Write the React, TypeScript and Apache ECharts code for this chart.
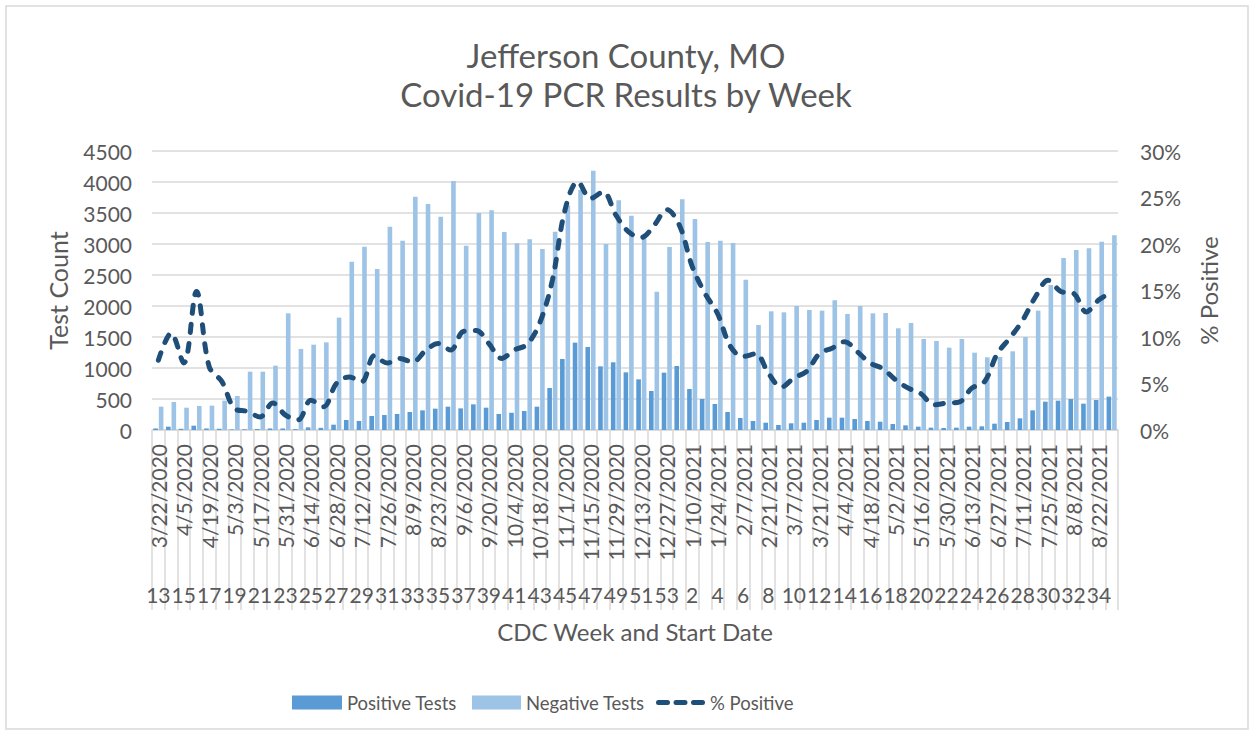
import React, { useEffect, useRef } from "react";
import * as echarts from "echarts";

const dates = [
  "3/22/2020", "3/29/2020", "4/5/2020", "4/12/2020", "4/19/2020", "4/26/2020", "5/3/2020", "5/10/2020",
  "5/17/2020", "5/24/2020", "5/31/2020", "6/7/2020", "6/14/2020", "6/21/2020", "6/28/2020", "7/5/2020",
  "7/12/2020", "7/19/2020", "7/26/2020", "8/2/2020", "8/9/2020", "8/16/2020", "8/23/2020", "8/30/2020",
  "9/6/2020", "9/13/2020", "9/20/2020", "9/27/2020", "10/4/2020", "10/11/2020", "10/18/2020", "10/25/2020",
  "11/1/2020", "11/8/2020", "11/15/2020", "11/22/2020", "11/29/2020", "12/6/2020", "12/13/2020", "12/20/2020",
  "12/27/2020",
  "1/3/2021", "1/10/2021", "1/17/2021", "1/24/2021", "1/31/2021", "2/7/2021", "2/14/2021", "2/21/2021",
  "2/28/2021", "3/7/2021", "3/14/2021", "3/21/2021", "3/28/2021", "4/4/2021", "4/11/2021", "4/18/2021",
  "4/25/2021", "5/2/2021", "5/9/2021", "5/16/2021", "5/23/2021", "5/30/2021", "6/6/2021", "6/13/2021",
  "6/20/2021", "6/27/2021", "7/4/2021", "7/11/2021", "7/18/2021", "7/25/2021", "8/1/2021", "8/8/2021",
  "8/15/2021", "8/22/2021", "8/29/2021",
];

const cdcWeeks = [
  "13", "14", "15", "16", "17", "18", "19", "20", "21", "22", "23", "24", "25", "26", "27", "28",
  "29", "30", "31", "32", "33", "34", "35", "36", "37", "38", "39", "40", "41", "42", "43", "44",
  "45", "46", "47", "48", "49", "50", "51", "52", "53",
  "1", "2", "3", "4", "5", "6", "7", "8", "9", "10", "11", "12", "13", "14", "15", "16",
  "17", "18", "19", "20", "21", "22", "23", "24", "25", "26", "27", "28", "29", "30", "31", "32",
  "33", "34", "35",
];

const positiveTests = [
  25, 54, 20, 70, 25, 20, 10, 12, 15, 25, 25, 15, 43, 35, 86, 161,
  145, 226, 242, 258, 290, 317, 344, 376, 349, 414, 360, 258, 280, 306, 376, 677,
  1145, 1409, 1339, 1027, 1092, 930, 817, 629, 925,
  1032, 661, 500, 419, 290, 194, 145, 118, 81, 108, 118, 161, 199, 199, 177, 145,
  134, 97, 75, 54, 38, 32, 38, 54, 59, 102, 129, 188, 317, 457, 473, 500,
  425, 484, 538,
];

const negativeTests = [
  376, 452, 360, 387, 393, 473, 548, 941, 941, 1038, 1882, 1307, 1376, 1414, 1812, 2715,
  2957, 2597, 3280, 3054, 3764, 3645, 3441, 4017, 2970, 3500, 3543, 3194, 3011, 3076, 2920, 3199,
  3620, 3871, 4183, 3000, 3705, 3457, 3092, 2231, 2952,
  3721, 3403, 3032, 3054, 3016, 2425, 1694, 1914, 1898, 2000, 1936, 1925, 2092, 1871, 2000, 1882,
  1887, 1640, 1726, 1468, 1436, 1328, 1468, 1247, 1172, 1177, 1269, 1500, 1925, 2339, 2774, 2903,
  2930, 3038, 3140,
];

const pctPositive = [
  0.075, 0.104, 0.072, 0.149, 0.068, 0.052, 0.023, 0.02, 0.014, 0.029, 0.016, 0.011, 0.032, 0.025, 0.05, 0.057,
  0.052, 0.08, 0.072, 0.077, 0.073, 0.085, 0.093, 0.086, 0.106, 0.107, 0.093, 0.077, 0.086, 0.092, 0.115, 0.161,
  0.237, 0.267, 0.249, 0.256, 0.231, 0.213, 0.207, 0.22, 0.237,
  0.22, 0.176, 0.147, 0.125, 0.09, 0.079, 0.082, 0.061, 0.046, 0.056, 0.063, 0.082, 0.088, 0.095, 0.084, 0.072,
  0.066, 0.054, 0.045, 0.039, 0.027, 0.029, 0.03, 0.045, 0.052, 0.082, 0.099, 0.118, 0.143, 0.161, 0.149, 0.147,
  0.127, 0.14, 0.148,
];

const FONT = "Lato, 'Open Sans', sans-serif";
const TXT = "#595959";
const GRID = "#d9d9d9";
const POS = "#5b9bd5";
const NEG = "#9dc3e6";
const LINE = "#1f4e79";

const DASH_ICON =
  "path://M2.5,0 H11.5 A2.5,2.5 0 0 1 11.5,5 H2.5 A2.5,2.5 0 0 1 2.5,0 Z " +
  "M20,0 H29 A2.5,2.5 0 0 1 29,5 H20 A2.5,2.5 0 0 1 20,0 Z " +
  "M37.5,0 H46.5 A2.5,2.5 0 0 1 46.5,5 H37.5 A2.5,2.5 0 0 1 37.5,0 Z";

export default function App() {
  const ref = useRef<HTMLDivElement>(null);
  useEffect(() => {
    if (!ref.current) return;
    const chart = echarts.init(ref.current, null, { renderer: "svg" });
    const legendText = { fontFamily: FONT, fontSize: 18.5, color: TXT };
    chart.setOption({
      animation: false,
      backgroundColor: "#ffffff",
      textStyle: { fontFamily: FONT },
      title: {
        text: "Jefferson County, MO\nCovid-19 PCR Results by Week",
        left: "center",
        top: 30,
        textStyle: { fontFamily: FONT, fontSize: 33, fontWeight: "normal", color: TXT, lineHeight: 39 },
      },
      graphic: [
        {
          type: "rect",
          shape: { x: 6, y: 6, width: 1242, height: 723 },
          style: { fill: "none", stroke: GRID, lineWidth: 1.5 },
          silent: true,
        },
      ],
      legend: [
        {
          left: 292,
          top: 693,
          padding: 0,
          itemWidth: 50,
          itemHeight: 14,
          textStyle: { ...legendText, lineHeight: 14 },
          data: [{ name: "Positive Tests", icon: "rect" }],
        },
        {
          left: 472,
          top: 693,
          padding: 0,
          itemWidth: 49,
          itemHeight: 14,
          textStyle: { ...legendText, lineHeight: 14 },
          data: [{ name: "Negative Tests", icon: "rect" }],
        },
        {
          left: 656,
          top: 693,
          padding: 0,
          itemWidth: 49,
          itemHeight: 5,
          textStyle: { ...legendText, lineHeight: 5 },
          data: [{ name: "% Positive", icon: DASH_ICON, itemStyle: { color: LINE } }],
        },
      ],
      grid: { left: 152, right: 134, top: 151, bottom: 303, containLabel: false },
      xAxis: [
        {
          type: "category",
          data: dates,
          position: "bottom",
          axisLine: { lineStyle: { color: GRID, width: 1.5 } },
          axisTick: { show: true, interval: 0, length: 180, lineStyle: { color: GRID, width: 1.5 } },
          axisLabel: {
            interval: 1,
            rotate: 90,
            margin: 14,
            fontFamily: FONT,
            fontSize: 21,
            color: TXT,
          },
        },
        {
          type: "category",
          data: cdcWeeks,
          position: "bottom",
          axisLine: { show: false },
          axisTick: { show: false },
          axisLabel: { interval: 1, margin: 154, fontFamily: FONT, fontSize: 21, color: TXT, hideOverlap: false },
          name: "CDC Week and Start Date",
          nameLocation: "middle",
          nameGap: 189,
          nameTextStyle: { fontFamily: FONT, fontSize: 24, color: TXT },
        },
      ],
      yAxis: [
        {
          type: "value",
          min: 0,
          max: 4500,
          interval: 500,
          position: "left",
          name: "Test Count",
          nameLocation: "middle",
          nameRotate: 90,
          nameGap: 82,
          nameTextStyle: { fontFamily: FONT, fontSize: 25, color: TXT },
          axisLine: { show: false },
          axisTick: { show: false },
          axisLabel: {
            margin: 20,
            fontFamily: FONT,
            fontSize: 21,
            color: TXT,
            formatter: (v: number) => String(v),
          },
          splitLine: { lineStyle: { color: GRID, width: 1.5 } },
        },
        {
          type: "value",
          min: 0,
          max: 0.3,
          interval: 0.05,
          position: "right",
          name: "% Positive",
          nameLocation: "middle",
          nameRotate: 90,
          nameGap: 78,
          nameTextStyle: { fontFamily: FONT, fontSize: 24, color: TXT },
          axisLine: { show: false },
          axisTick: { show: false },
          axisLabel: {
            margin: 22,
            fontFamily: FONT,
            fontSize: 21,
            color: TXT,
            formatter: (v: number) => Math.round(v * 100) + "%",
          },
          splitLine: { show: false },
        },
      ],
      series: [
        {
          name: "Positive Tests",
          type: "bar",
          data: positiveTests,
          barWidth: 4.6,
          barGap: "20%",
          itemStyle: { color: POS },
        },
        {
          name: "Negative Tests",
          type: "bar",
          data: negativeTests,
          barWidth: 4.6,
          barGap: "20%",
          itemStyle: { color: NEG },
        },
        {
          name: "% Positive",
          type: "line",
          yAxisIndex: 1,
          data: pctPositive,
          smooth: 0.35,
          symbol: "none",
          lineStyle: { color: LINE, width: 5, type: [8, 11], cap: "round" },
          itemStyle: { color: LINE },
          z: 5,
        },
      ],
    });
    return () => chart.dispose();
  }, []);
  return (
    <div
      ref={ref}
      style={{ position: "absolute", left: 0, top: 0, width: 1252, height: 733 }}
    />
  );
}
